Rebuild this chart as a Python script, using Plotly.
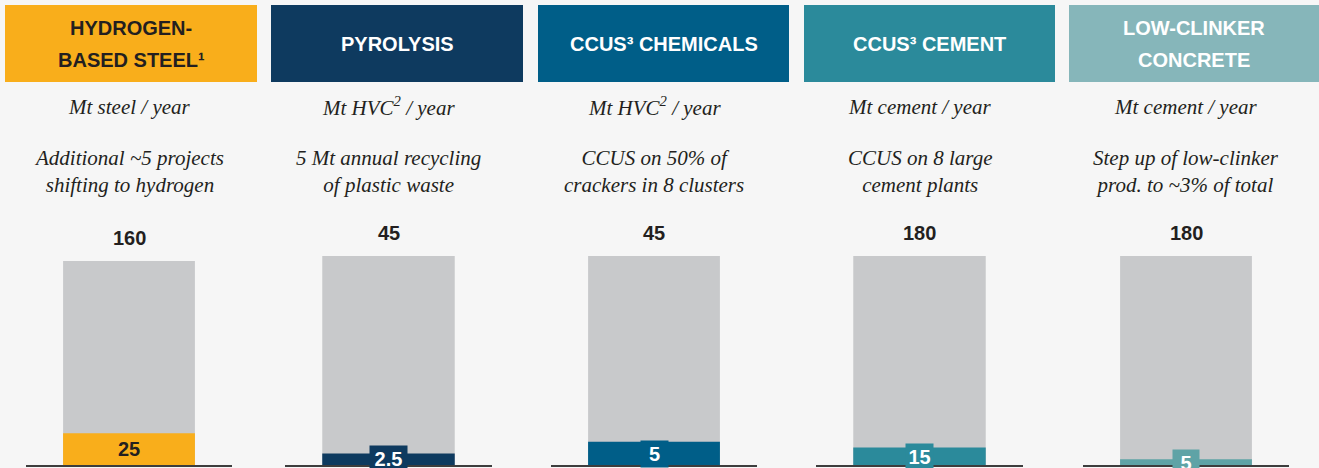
import plotly.graph_objects as go

# ---- data ----
headers = ["HYDROGEN-<br>BASED STEEL¹", "PYROLYSIS", "CCUS³ CHEMICALS", "CCUS³ CEMENT", "LOW-CLINKER<br>CONCRETE"]
units = ["Mt steel / year", "Mt HVC<sup>2</sup> / year", "Mt HVC<sup>2</sup> / year", "Mt cement / year", "Mt cement / year"]
descriptions = [
    "Additional ~5 projects<br>shifting to hydrogen",
    "5 Mt annual recycling<br>of plastic waste",
    "CCUS on 50% of<br>crackers in 8 clusters",
    "CCUS on 8 large<br>cement plants",
    "Step up of low-clinker<br>prod. to ~3% of total",
]
totals = [160, 45, 45, 180, 180]
values = [25, 2.5, 5, 15, 5]
value_labels = ["25", "2.5", "5", "15", "5"]
total_labels = ["160", "45", "45", "180", "180"]

# ---- styles ----
W, H = 1319, 468
BG = "#F6F6F6"
GRAY = "#C8C9CB"
DARK = "#231F20"
header_colors = ["#F9AE1B", "#0E3A5F", "#005E88", "#2B8A9B", "#86B6BA"]
bar_colors = ["#F9AE1B", "#0E3A5F", "#005E88", "#2B8A9B", "#5FA3A6"]
header_text_colors = [DARK, "white", "white", "white", "white"]
header_boxes = [(5, 257), (271, 523), (538, 789), (804, 1055), (1069, 1319)]
baselines = [(26, 232), (285, 492), (551, 757), (816, 1023), (1083, 1289)]
bar_tops = [261, 256, 256, 256, 256]
label_inside = [True, False, False, False, False]
label_box_tops = [None, 445, 440, 443, 449]
label_box_widths = [None, 33, 23, 23, 22]
BASE_Y = 465

COND = "Liberation Sans, Arial, sans-serif"
SERIF = "Liberation Serif, DejaVu Serif, serif"
HFS = 20


def px(x):
    return x / W


def py(y):
    return 1 - y / H


fig = go.Figure()
layout = dict(
    width=W, height=H, margin=dict(l=0, r=0, t=0, b=0),
    paper_bgcolor=BG, plot_bgcolor="rgba(0,0,0,0)",
    barmode="overlay", showlegend=False,
)
annotations = []
shapes = []

for i in range(5):
    n = "" if i == 0 else str(i + 1)
    xa, ya = "x" + n, "y" + n
    fig.add_trace(go.Bar(x=[0], y=[totals[i]], width=0.64, marker=dict(color=GRAY, line_width=0),
                         xaxis=xa, yaxis=ya, hoverinfo="skip"))
    fig.add_trace(go.Bar(x=[0], y=[values[i]], width=0.64, marker=dict(color=bar_colors[i], line_width=0),
                         xaxis=xa, yaxis=ya, hoverinfo="skip"))
    layout["xaxis" + n] = dict(
        domain=[px(baselines[i][0]), px(baselines[i][1])], range=[-0.5, 0.5],
        showline=True, linecolor="#3d3d3d", linewidth=2, showticklabels=False,
        showgrid=False, zeroline=False, ticks="", anchor=ya, fixedrange=True,
    )
    layout["yaxis" + n] = dict(
        domain=[py(BASE_Y), py(bar_tops[i])], range=[0, totals[i]],
        visible=False, showgrid=False, zeroline=False, anchor=xa, fixedrange=True,
    )

    # header box
    x0, x1 = header_boxes[i]
    shapes.append(dict(type="rect", xref="paper", yref="paper", x0=px(x0), x1=px(x1),
                       y0=py(82), y1=py(5), fillcolor=header_colors[i], line_width=0, layer="below"))
    lines = headers[i].split("<br>")
    cy = 44
    start = cy - (len(lines) - 1) * 32 / 2
    for k, ln in enumerate(lines):
        annotations.append(dict(xref="paper", yref="paper", x=px((x0 + x1) / 2), y=py(start + k * 32),
                                text="<b>" + ln + "</b>", showarrow=False, xanchor="center", yanchor="middle",
                                font=dict(family=COND, size=HFS, color=header_text_colors[i])))

    # unit text
    annotations.append(dict(xref=xa, yref="paper", x=0, y=py(107), text="<i>" + units[i] + "</i>",
                            showarrow=False, xanchor="center", yanchor="middle",
                            font=dict(family=SERIF, size=21, color=DARK)))
    # description
    annotations.append(dict(xref=xa, yref="paper", x=0, y=py(171), text="<i>" + descriptions[i] + "</i>",
                            showarrow=False, xanchor="center", yanchor="middle",
                            font=dict(family=SERIF, size=21, color=DARK)))
    # total label
    annotations.append(dict(xref=xa, yref=ya, x=0, y=totals[i], yanchor="bottom", yshift=10,
                            text="<b>" + total_labels[i] + "</b>", showarrow=False,
                            font=dict(family=COND, size=HFS, color=DARK)))
    # value label
    if label_inside[i]:
        annotations.append(dict(xref=xa, yref=ya, x=0, y=values[i] / 2, yanchor="middle",
                                text="<b>" + value_labels[i] + "</b>", showarrow=False,
                                font=dict(family=COND, size=HFS, color=DARK)))
    else:
        annotations.append(dict(xref=xa, yref="paper", x=0, y=py(label_box_tops[i]), yanchor="top",
                                text="<b>" + value_labels[i] + "</b>", showarrow=False,
                                bgcolor=bar_colors[i], borderpad=2, width=label_box_widths[i],
                                font=dict(family=COND, size=HFS, color="white")))

layout["annotations"] = annotations
layout["shapes"] = shapes
fig.update_layout(**layout)
fig.write_html("out.html", config={"displayModeBar": False},
               post_script="document.body.style.margin='0';document.body.style.overflow='hidden';")
